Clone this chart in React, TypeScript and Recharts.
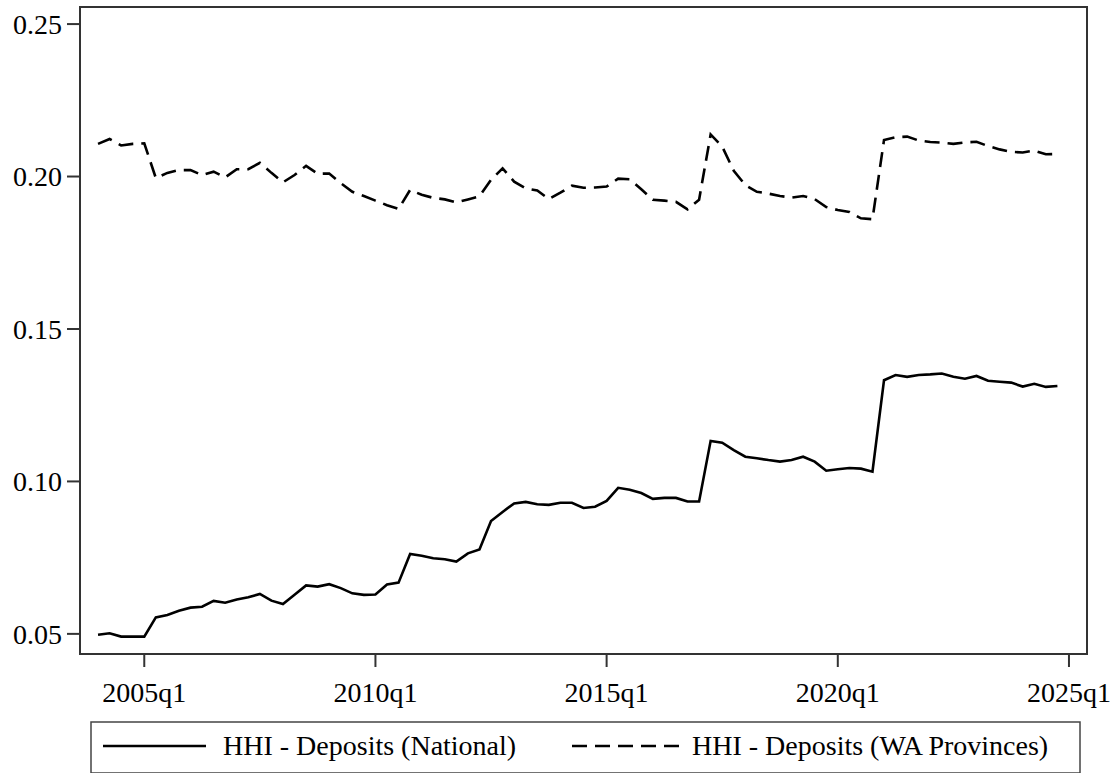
import React from 'react';
import { LineChart, Line, XAxis, YAxis, ReferenceArea } from 'recharts';

// quarterly categories 2004q1 .. 2024q4
const firstYear = 2004;
const lastYear = 2024;
const quarters: string[] = [];
for (let y = firstYear; y <= lastYear; y++) {
  for (let q = 1; q <= 4; q++) quarters.push(`${y}q${q}`);
}

const national = [
  0.0497, 0.0502, 0.0491, 0.0491, 0.0491, 0.0554, 0.0562, 0.0576, 0.0586, 0.0589,
  0.0608, 0.0602, 0.0613, 0.062, 0.0631, 0.0609, 0.0598, 0.0628, 0.0659, 0.0655,
  0.0663, 0.065, 0.0633, 0.0628, 0.0629, 0.0662, 0.0668, 0.0762, 0.0756, 0.0748,
  0.0745, 0.0737, 0.0764, 0.0777, 0.087, 0.09, 0.0928, 0.0933, 0.0925, 0.0923,
  0.093, 0.093, 0.0913, 0.0917, 0.0936, 0.0979, 0.0973, 0.0962, 0.0943, 0.0946,
  0.0946, 0.0934, 0.0934, 0.1133, 0.1127, 0.1103, 0.1081, 0.1076, 0.107, 0.1065,
  0.107, 0.1081, 0.1065, 0.1035, 0.104, 0.1044, 0.1042, 0.1032, 0.1332, 0.1349,
  0.1343, 0.1349, 0.1351, 0.1354, 0.1343, 0.1337, 0.1346, 0.133, 0.1327, 0.1324,
  0.1311, 0.132, 0.131, 0.1313,
];

const waProvinces = [
  0.2107, 0.2123, 0.2102, 0.2107, 0.2109, 0.1995, 0.2012, 0.2021, 0.2021, 0.2005,
  0.2016, 0.1997, 0.2024, 0.2024, 0.2045, 0.2012, 0.1981, 0.2005, 0.2035, 0.2009,
  0.201, 0.1978, 0.195, 0.1936, 0.1921, 0.1906, 0.1894, 0.1956, 0.194, 0.193,
  0.1925, 0.1915, 0.1925, 0.1935, 0.1989, 0.2027, 0.1983, 0.1961, 0.1954, 0.1926,
  0.1947, 0.197, 0.1963, 0.1964, 0.1967, 0.1993, 0.1991, 0.1958, 0.1924, 0.1921,
  0.1917, 0.1892, 0.1924, 0.2138, 0.2098, 0.2019, 0.1972, 0.195, 0.1944, 0.1936,
  0.1931, 0.1936, 0.1926, 0.19, 0.189, 0.1884, 0.1863, 0.186, 0.212, 0.2129,
  0.2131, 0.2118, 0.2113, 0.2111, 0.2107, 0.2112, 0.2114, 0.21, 0.2089, 0.2081,
  0.2079, 0.2085, 0.2073, 0.2074,
];

const xTickLabels = ['2005q1', '2010q1', '2015q1', '2020q1', '2025q1'];
const yTicks = [0.05, 0.1, 0.15, 0.2, 0.25];

const seriesNames = ['HHI - Deposits (National)', 'HHI - Deposits (WA Provinces)'];

const quarterIndex = (label: string) =>
  (parseInt(label.slice(0, 4), 10) - firstYear) * 4 + parseInt(label.slice(5), 10) - 1;

const xTicks = xTickLabels.map(quarterIndex);
const xDomain = [-1.56, 85.56];
const yDomain = [0.0434, 0.2556];

const data = quarters.map((q, i) => ({ t: i, q, national: national[i], wa: waProvinces[i] }));

const font = '"Liberation Serif", "Times New Roman", serif';
const axisColor = '#333';
const dash = '15 8';

// legend drawn as its own box under the plot, like the Stata export
const LegendBox = () => (
  <svg width={991} height={53} style={{ display: 'block' }}>
    <rect x={1} y={1} width={989} height={51} fill="#fff" stroke="#444" strokeWidth={1.5} />
    <line x1={13} x2={116} y1={25} y2={25} stroke="#000" strokeWidth={2.6} />
    <text x={133} y={34} fontFamily={font} fontSize={28} fill="#000">{seriesNames[0]}</text>
    <line x1={482} x2={592} y1={25} y2={25} stroke="#000" strokeWidth={2.6} strokeDasharray={dash} />
    <text x={602} y={34} fontFamily={font} fontSize={28} fill="#000">{seriesNames[1]}</text>
  </svg>
);

const App = () => {
  return (
    <div style={{ position: 'absolute', left: 0, top: 0, width: 1118, height: 773, background: '#fff' }}>
      <LineChart width={1118} height={773} data={data} margin={{ top: 7, right: 31, left: 0, bottom: 0 }}>
        <XAxis
          dataKey="t"
          type="number"
          domain={xDomain}
          ticks={xTicks}
          allowDataOverflow
          height={119}
          tickSize={13}
          tickMargin={15}
          tickFormatter={(v: number) => quarters[v] ?? xTickLabels[xTicks.indexOf(v)]}
          tick={{ fontFamily: font, fontSize: 28, fill: '#000' }}
          stroke={axisColor}
          strokeWidth={2}
          interval={0}
        />
        <YAxis
          type="number"
          domain={yDomain}
          ticks={yTicks}
          allowDataOverflow
          width={80}
          tickSize={13}
          tickMargin={5}
          tickFormatter={(v: number) => v.toFixed(2)}
          tick={{ fontFamily: font, fontSize: 28, fill: '#000' }}
          stroke={axisColor}
          strokeWidth={2}
          interval={0}
        />
        <ReferenceArea
          x1={xDomain[0]}
          x2={xDomain[1]}
          y1={yDomain[0]}
          y2={yDomain[1]}
          fill="none"
          stroke={axisColor}
          strokeWidth={2}
          ifOverflow="visible"
        />
        <Line
          type="linear"
          dataKey="national"
          name={seriesNames[0]}
          stroke="#000"
          strokeWidth={2.6}
          dot={false}
          isAnimationActive={false}
        />
        <Line
          type="linear"
          dataKey="wa"
          name={seriesNames[1]}
          stroke="#000"
          strokeWidth={2.6}
          strokeDasharray={dash}
          dot={false}
          isAnimationActive={false}
        />
      </LineChart>
      <div style={{ position: 'absolute', left: 90, top: 721 }}>
        <LegendBox />
      </div>
    </div>
  );
};

export default App;
